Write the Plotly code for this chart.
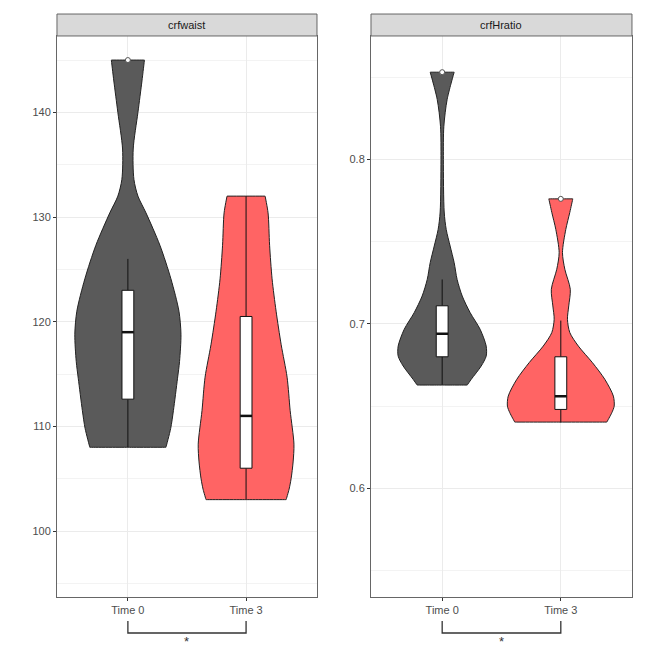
import plotly.graph_objects as go

# ---------------- data ----------------
panels = ['crfwaist', 'crfHratio']
groups = ['Time 0', 'Time 3']

# violin outline: value levels (top -> bottom) and half width in category units
waist_t0_level = [145, 143, 140, 136.5, 133.6, 132, 130.4, 127.3, 124.1, 121, 118.8, 116.2, 114.6, 111.5, 109.8, 108]
waist_t0_width = [0.140, 0.119, 0.085, 0.045, 0.051, 0.085, 0.153, 0.271, 0.364, 0.432, 0.449, 0.437, 0.420, 0.385, 0.362, 0.322]
waist_t3_level = [132, 130.4, 127.3, 124.1, 121, 117.8, 114.7, 111.5, 108.3, 106.6, 105, 104, 103]
waist_t3_width = [0.161, 0.186, 0.199, 0.220, 0.254, 0.297, 0.347, 0.373, 0.405, 0.398, 0.381, 0.364, 0.339]

ratio_t0_level = [0.853, 0.8365, 0.82, 0.80, 0.768, 0.7574, 0.7473, 0.7372, 0.727, 0.7169, 0.7068, 0.6967, 0.6865, 0.6804, 0.6744, 0.6663, 0.6628]
ratio_t0_width = [0.101, 0.042, 0.014, 0.010, 0.017, 0.034, 0.067, 0.101, 0.126, 0.169, 0.236, 0.320, 0.371, 0.371, 0.329, 0.245, 0.211]
ratio_t3_level = [0.776, 0.7678, 0.7574, 0.7433, 0.7332, 0.7210, 0.7109, 0.7028, 0.6947, 0.6865, 0.6764, 0.6663, 0.6561, 0.6500, 0.6460, 0.6403]
ratio_t3_width = [0.101, 0.076, 0.042, 0.014, 0.034, 0.080, 0.067, 0.056, 0.076, 0.148, 0.267, 0.371, 0.443, 0.450, 0.430, 0.388]

# box statistics: lower whisker, q1, median, q3, upper whisker
waist_box = {'Time 0': [108, 112.6, 119, 123, 126], 'Time 3': [103, 106, 111, 120.5, 132]}
ratio_box = {'Time 0': [0.663, 0.680, 0.694, 0.711, 0.727], 'Time 3': [0.640, 0.648, 0.656, 0.680, 0.702]}
waist_outliers = {'Time 0': [145], 'Time 3': []}
ratio_outliers = {'Time 0': [0.853], 'Time 3': [0.776]}

significance = ['*', '*']

# ---------------- styling ----------------
fills = {'Time 0': '#5A5A5A', 'Time 3': '#FF6464'}
FONT = 'Liberation Sans, Arial, sans-serif'
x_pos = {g: i + 1 for i, g in enumerate(groups)}
BOX_HALF = 0.05

violins = {
    'crfwaist': {'Time 0': (waist_t0_level, waist_t0_width), 'Time 3': (waist_t3_level, waist_t3_width)},
    'crfHratio': {'Time 0': (ratio_t0_level, ratio_t0_width), 'Time 3': (ratio_t3_level, ratio_t3_width)},
}
boxes = {'crfwaist': waist_box, 'crfHratio': ratio_box}
outliers = {'crfwaist': waist_outliers, 'crfHratio': ratio_outliers}


def violin_outline(c, lev, wid):
    # right side top->bottom, then left side bottom->top; end points doubled so the
    # spline keeps the flat (trimmed) ends sharp like ggplot's trim=TRUE
    rx = [c + w for w in wid]
    lx = [c - w for w in reversed(wid)]
    ry = list(lev)
    ly = list(reversed(lev))
    xs = [c, c, rx[0]] + rx + [rx[-1], c, c, lx[0]] + lx + [lx[-1], c, c]
    ys = [ry[0], ry[0], ry[0]] + ry + [ry[-1], ry[-1], ry[-1], ly[0]] + ly + [ly[-1], ly[-1], ly[-1]]
    return xs, ys


fig = go.Figure()

for p, panel in enumerate(panels):
    xa = 'x' if p == 0 else 'x2'
    ya = 'y' if p == 0 else 'y2'
    for g in groups:
        c = x_pos[g]
        lev, wid = violins[panel][g]
        xs, ys = violin_outline(c, lev, wid)
        fig.add_trace(go.Scatter(x=xs, y=ys, mode='lines', fill='toself', fillcolor=fills[g],
                                 line=dict(color='#222222', width=1, shape='spline', smoothing=0.8),
                                 xaxis=xa, yaxis=ya, hoverinfo='skip'))
        lo, q1, med, q3, hi = boxes[panel][g]
        # whiskers
        fig.add_trace(go.Scatter(x=[c, c, None, c, c], y=[lo, q1, None, q3, hi], mode='lines',
                                 line=dict(color='#111111', width=1), xaxis=xa, yaxis=ya, hoverinfo='skip'))
        # box
        fig.add_trace(go.Scatter(x=[c - BOX_HALF, c + BOX_HALF, c + BOX_HALF, c - BOX_HALF, c - BOX_HALF],
                                 y=[q1, q1, q3, q3, q1], mode='lines', fill='toself', fillcolor='white',
                                 line=dict(color='#111111', width=1), xaxis=xa, yaxis=ya, hoverinfo='skip'))
        # median
        fig.add_trace(go.Scatter(x=[c - BOX_HALF, c + BOX_HALF], y=[med, med], mode='lines',
                                 line=dict(color='#111111', width=2.5), xaxis=xa, yaxis=ya,
                                 hoverinfo='skip'))
        if outliers[panel][g]:
            fig.add_trace(go.Scatter(x=[c] * len(outliers[panel][g]), y=outliers[panel][g], mode='markers',
                                     marker=dict(color='white', size=5, line=dict(color='#555555', width=1)),
                                     xaxis=xa, yaxis=ya, hoverinfo='skip', cliponaxis=False))

x_domains = [[0.0882, 0.4907], [0.5743, 0.9783]]
y_domain = [0.0759, 0.9443]
strip_top = 0.9783

common_x = dict(range=[0.4, 2.6], tickvals=[1, 2], ticktext=groups, showgrid=True, gridcolor='#EBEBEB',
                ticks='outside', ticklen=3, tickcolor='#333333', showline=True, linecolor='#666666',
                mirror=True, zeroline=False, automargin=False,
                tickfont=dict(family=FONT, size=11, color='#4D4D4D'))
common_y = dict(domain=y_domain, showgrid=True, gridcolor='#EBEBEB', ticks='outside', ticklen=3,
                tickcolor='#333333', showline=True, linecolor='#666666', mirror=True, zeroline=False,
                automargin=False, tickfont=dict(family=FONT, size=11, color='#4D4D4D'))

fig.update_layout(
    width=646, height=646, margin=dict(l=0, r=0, t=0, b=0, autoexpand=False),
    plot_bgcolor='white', paper_bgcolor='white', showlegend=False,
    xaxis=dict(domain=x_domains[0], anchor='y', **common_x),
    yaxis=dict(anchor='x', range=[93.7, 147.3], tick0=0, dtick=10,
               minor=dict(dtick=5, showgrid=True, gridcolor='#F3F3F3'), **common_y),
    xaxis2=dict(domain=x_domains[1], anchor='y2', **common_x),
    yaxis2=dict(anchor='x2', range=[0.534, 0.875], tick0=0, dtick=0.1, tickformat='.1f',
                minor=dict(dtick=0.05, showgrid=True, gridcolor='#F3F3F3'), **common_y),
)

# facet strips
for p, panel in enumerate(panels):
    fig.add_shape(type='rect', xref='paper', yref='paper', x0=x_domains[p][0], x1=x_domains[p][1],
                  y0=y_domain[1], y1=strip_top, fillcolor='#D9D9D9', line=dict(color='#666666', width=1))
    fig.add_annotation(xref='paper', yref='paper', x=sum(x_domains[p]) / 2, y=(y_domain[1] + strip_top) / 2,
                       xanchor='center', yanchor='middle', text=panel, showarrow=False,
                       font=dict(family=FONT, size=11, color='#1A1A1A'))

# significance brackets under the axes
for p, panel in enumerate(panels):
    xr = 'x' if p == 0 else 'x2'
    a, b = x_pos[groups[0]], x_pos[groups[1]]
    y0, y1 = 0.0387, 0.0201
    fig.add_shape(type='path', xref=xr, yref='paper',
                  path=f'M {a},{y0} L {a},{y1} L {b},{y1} L {b},{y0}',
                  line=dict(color='#333333', width=1.3))
    fig.add_annotation(xref=xr, yref='paper', x=(a + b) / 2, y=y1 + 0.002, xanchor='center', yanchor='top',
                       text=significance[p], showarrow=False, font=dict(family=FONT, size=13, color='#333333'))

fig.write_html("out.html", config={'displayModeBar': False},
               post_script="document.body.style.margin='0';")
